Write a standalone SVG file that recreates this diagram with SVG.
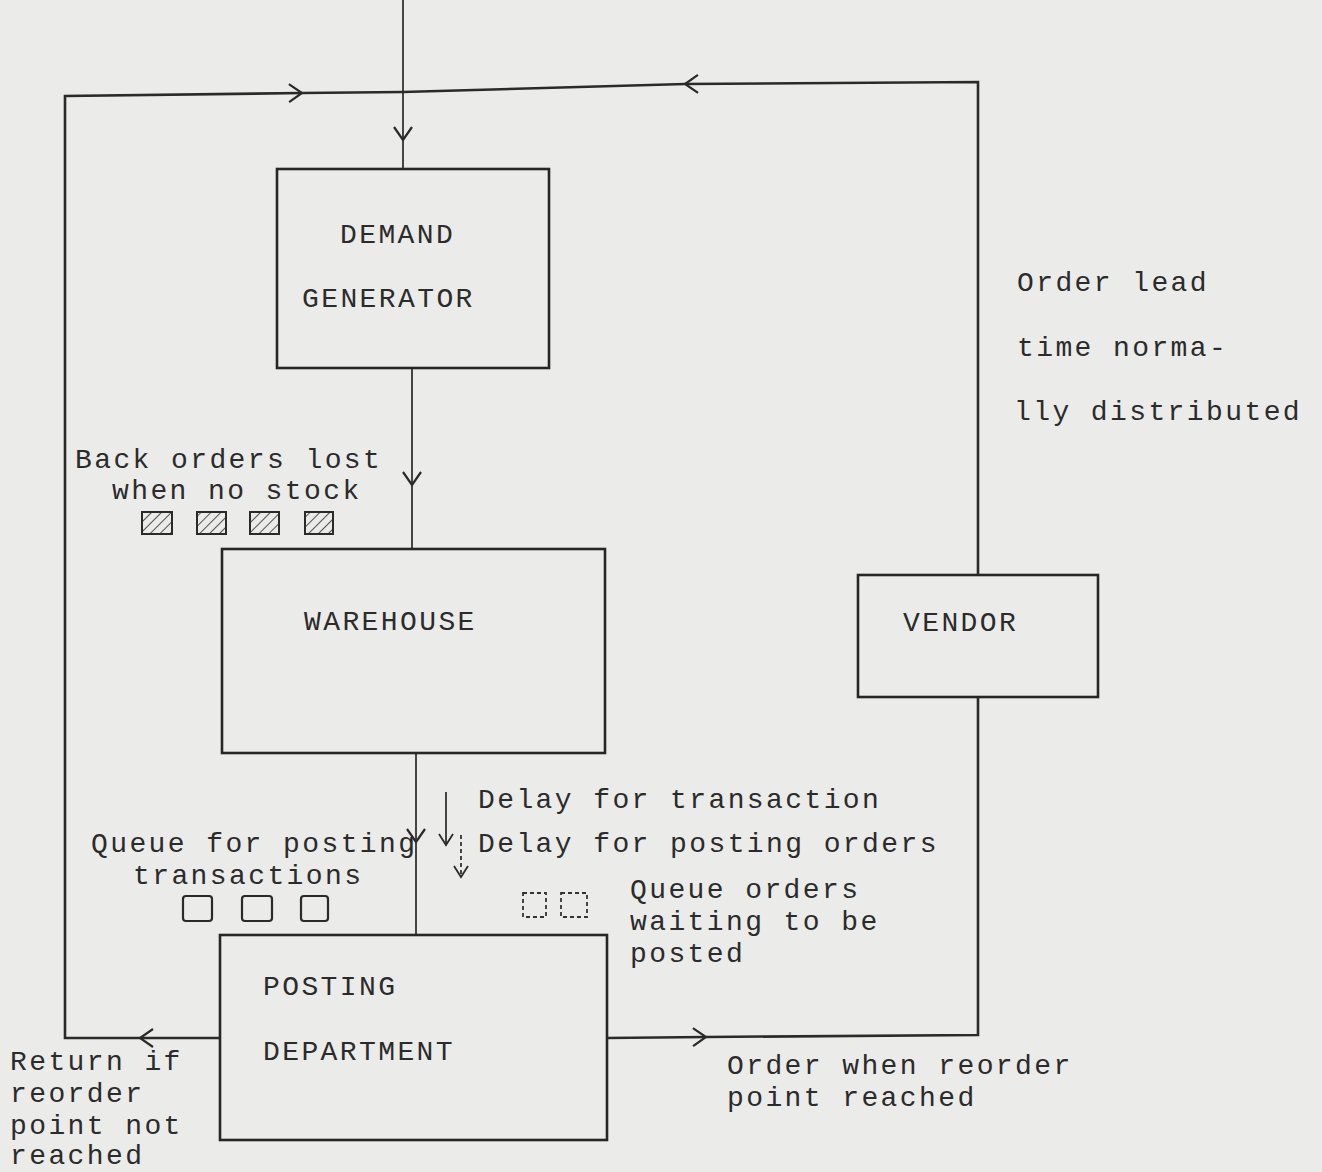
<svg xmlns="http://www.w3.org/2000/svg" width="1322" height="1172" viewBox="0 0 1322 1172">
<style>
  .bg { fill: #ebebea; }
  .box { fill: none; stroke: #262626; stroke-width: 2.6; }
  .ln { fill: none; stroke: #2a2a2a; stroke-width: 2.6; }
  .thin { fill: none; stroke: #333; stroke-width: 1.8; }
  .dash { fill: none; stroke: #333; stroke-width: 1.8; stroke-dasharray: 4 3; }
  .sq { fill: none; stroke: #2a2a2a; stroke-width: 2.2; }
  .hsq { fill: url(#hatch); stroke: #2a2a2a; stroke-width: 2; }
  text { font-family: "Liberation Mono", "Courier New", monospace; font-size: 28px; fill: #2b2b2b; letter-spacing: 2.4px; }
</style>
<defs>
  <marker id="chev" markerUnits="userSpaceOnUse" markerWidth="30" markerHeight="30" viewBox="-20 -15 30 30" refX="0" refY="0" orient="auto">
    <path d="M-13,-9 L0,0 L-13,9" fill="none" stroke="#2a2a2a" stroke-width="2.2"/>
  </marker>
  <marker id="chevs" markerUnits="userSpaceOnUse" markerWidth="24" markerHeight="24" viewBox="-16 -12 24 24" refX="0" refY="0" orient="auto">
    <path d="M-11,-7 L0,0 L-11,7" fill="none" stroke="#2a2a2a" stroke-width="1.8"/>
  </marker>
  <pattern id="hatch" patternUnits="userSpaceOnUse" width="7" height="7" patternTransform="rotate(45)">
    <rect width="7" height="7" fill="#ebebea"/>
    <line x1="0" y1="0" x2="0" y2="7" stroke="#2a2a2a" stroke-width="1.6"/>
  </pattern>
</defs>
<rect class="bg" x="0" y="0" width="1322" height="1172"/>

<g id="connectors">
  <!-- external input to demand generator -->
  <path class="thin" d="M403,0 L403,140" marker-end="url(#chev)"/>
  <path class="thin" d="M403,140 L403,168"/>
  <!-- return loop (left) -->
  <path class="ln" d="M220,1038 L140,1038" marker-end="url(#chev)"/>
  <path class="ln" d="M140,1038 L65,1038 L65,96 L302,93" marker-end="url(#chev)"/>
  <path class="ln" d="M302,93 L403,92"/>
  <!-- order loop (right, through vendor) -->
  <path class="ln" d="M607,1038 L706,1037" marker-end="url(#chev)"/>
  <path class="ln" d="M706,1037 L978,1035 L978,697"/>
  <path class="ln" d="M978,575 L978,82 L685,84" marker-end="url(#chev)"/>
  <path class="ln" d="M685,84 L403,92"/>
  <!-- demand generator to warehouse -->
  <path class="thin" d="M412,368 L412,485" marker-end="url(#chev)"/>
  <path class="thin" d="M412,485 L412,548"/>
  <!-- warehouse to posting -->
  <path class="thin" d="M416,753 L416,842" marker-end="url(#chev)"/>
  <path class="thin" d="M416,842 L416,935"/>
  <!-- delay arrows -->
  <path class="thin" d="M446,792 L446,845" marker-end="url(#chevs)"/>
  <path class="dash" d="M461,835 L461,877" marker-end="url(#chevs)"/>
</g>

<g id="demand-generator">
  <rect class="box" x="277" y="169" width="272" height="199"/>
  <text x="340" y="243">DEMAND</text>
  <text x="302" y="307">GENERATOR</text>
</g>

<g id="warehouse">
  <rect class="box" x="222" y="549" width="383" height="204"/>
  <text x="304" y="630">WAREHOUSE</text>
</g>

<g id="posting-department">
  <rect class="box" x="220" y="935" width="387" height="205"/>
  <text x="263" y="995">POSTING</text>
  <text x="263" y="1060">DEPARTMENT</text>
</g>

<g id="vendor">
  <rect class="box" x="858" y="575" width="240" height="122"/>
  <text x="903" y="631">VENDOR</text>
</g>

<g id="labels">
  <text x="1017" y="291">Order lead</text>
  <text x="1017" y="356">time norma-</text>
  <text x="1014" y="420">lly distributed</text>

  <text x="75" y="468">Back orders lost</text>
  <text x="112" y="499">when no stock</text>
  <rect class="hsq" x="142" y="512" width="30" height="22"/>
  <rect class="hsq" x="197" y="512" width="29" height="22"/>
  <rect class="hsq" x="250" y="512" width="29" height="22"/>
  <rect class="hsq" x="305" y="512" width="28" height="22"/>

  <text x="478" y="808">Delay for transaction</text>
  <text x="478" y="852">Delay for posting orders</text>

  <text x="91" y="852">Queue for posting</text>
  <text x="133" y="884">transactions</text>
  <rect class="sq" x="183" y="896" width="29" height="25" rx="3"/>
  <rect class="sq" x="242" y="896" width="30" height="25" rx="3"/>
  <rect class="sq" x="301" y="896" width="27" height="25" rx="3"/>

  <rect class="dash" x="523" y="893" width="23" height="24"/>
  <rect class="dash" x="561" y="893" width="26" height="24"/>
  <text x="630" y="898">Queue orders</text>
  <text x="630" y="930">waiting to be</text>
  <text x="630" y="962">posted</text>

  <text x="10" y="1070">Return if</text>
  <text x="10" y="1102">reorder</text>
  <text x="10" y="1134">point not</text>
  <text x="10" y="1164">reached</text>

  <text x="727" y="1074">Order when reorder</text>
  <text x="727" y="1106">point reached</text>
</g>
</svg>
